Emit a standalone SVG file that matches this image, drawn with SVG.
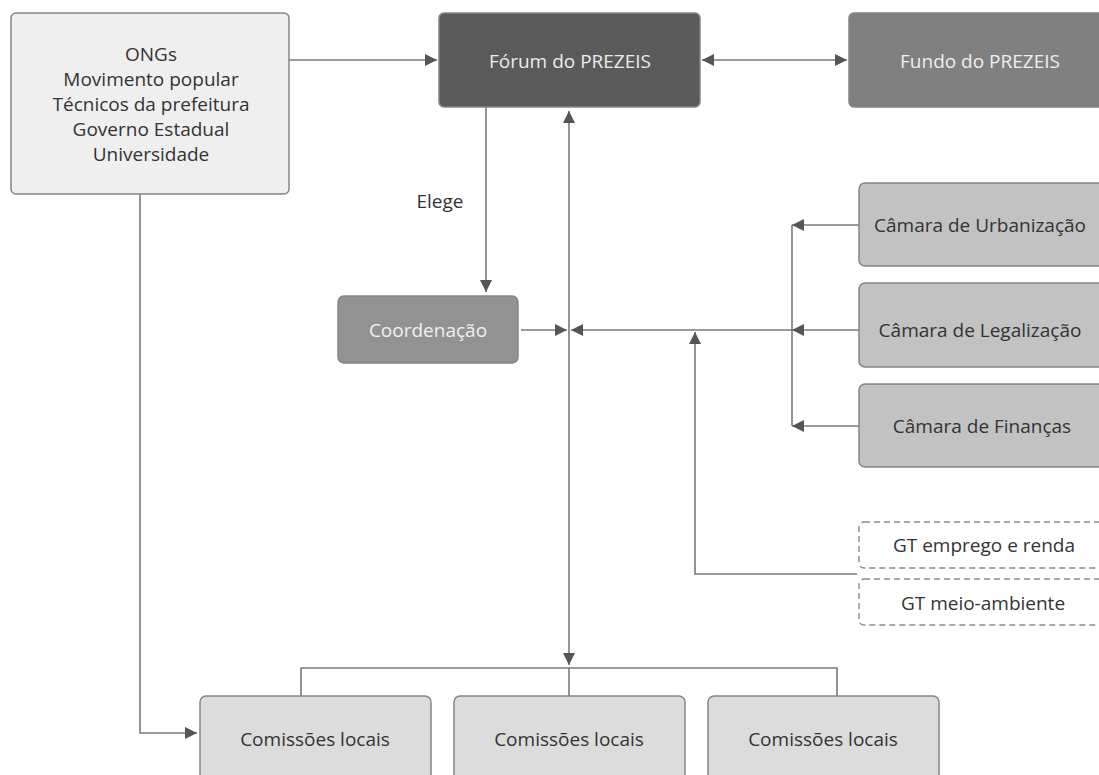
<svg xmlns="http://www.w3.org/2000/svg" width="1099" height="775" viewBox="0 0 1099 775">
<style>
text{font-family:"Open Sans","Noto Sans","DejaVu Sans",sans-serif;font-size:19px;text-anchor:middle;dominant-baseline:central}
.box{stroke:#858585;stroke-width:1.5}
.ink{fill:#333}
.ln{fill:none;stroke:#7a7a7a;stroke-width:1.6}
.dash{fill:#fff;stroke:#8a8a8a;stroke-width:1.4;stroke-dasharray:6 4}
</style>
<defs>
<marker id="ah" viewBox="0 0 12 12" refX="12" refY="6" markerWidth="12" markerHeight="12" markerUnits="userSpaceOnUse" orient="auto-start-reverse">
<path d="M0,0 L12,6 L0,12 Z" fill="#555"/>
</marker>
</defs>
<rect width="1099" height="775" fill="#fff"/>
<g id="connectors">
<line class="ln" x1="289" y1="60" x2="437" y2="60" marker-end="url(#ah)"/>
<line class="ln" x1="702" y1="60" x2="847" y2="60" marker-start="url(#ah)" marker-end="url(#ah)"/>
<line class="ln" x1="486" y1="107" x2="486" y2="292" marker-end="url(#ah)"/>
<line class="ln" x1="569" y1="111" x2="569" y2="665" marker-start="url(#ah)" marker-end="url(#ah)"/>
<line class="ln" x1="521" y1="330" x2="567" y2="330" marker-end="url(#ah)"/>
<line class="ln" x1="792" y1="330" x2="571" y2="330" marker-end="url(#ah)"/>
<polyline class="ln" points="792,225 792,426"/>
<line class="ln" x1="859" y1="225" x2="792" y2="225" marker-end="url(#ah)"/>
<line class="ln" x1="859" y1="330" x2="792" y2="330" marker-end="url(#ah)"/>
<line class="ln" x1="859" y1="426" x2="792" y2="426" marker-end="url(#ah)"/>
<polyline class="ln" points="857,574 695,574 695,332" marker-end="url(#ah)"/>
<polyline class="ln" points="140,193 140,733 197,733" marker-end="url(#ah)"/>
<polyline class="ln" points="301,696 301,668 837,668 837,696"/>
<line class="ln" x1="569" y1="668" x2="569" y2="696"/>
<text x="440" y="201" class="ink">Elege</text>
</g>
<g id="n-origem">
<rect class="box" x="11" y="13" width="278" height="181" rx="5" fill="#efefef"/>
<text class="ink" x="151" y="54">ONGs</text>
<text class="ink" x="151" y="79">Movimento popular</text>
<text class="ink" x="151" y="104">Técnicos da prefeitura</text>
<text class="ink" x="151" y="129">Governo Estadual</text>
<text class="ink" x="151" y="154">Universidade</text>
</g>
<g id="n-forum">
<rect class="box" x="439" y="13" width="261" height="94" rx="5" fill="#5a5a5a" stroke="#4a4a4a"/>
<text x="570" y="61" fill="#ececec">Fórum do PREZEIS</text>
</g>
<g id="n-fundo">
<rect class="box" x="849" y="13" width="262" height="94" rx="5" fill="#808080"/>
<text x="980" y="61" fill="#efefef">Fundo do PREZEIS</text>
</g>
<g id="n-coord">
<rect class="box" x="338" y="296" width="180" height="67" rx="6" fill="#929292"/>
<text x="428" y="330" fill="#f0f0f0">Coordenação</text>
</g>
<g id="n-urb">
<rect class="box" x="859" y="183" width="250" height="83" rx="6" fill="#c2c2c2"/>
<text class="ink" x="980" y="225">Câmara de Urbanização</text>
</g>
<g id="n-leg">
<rect class="box" x="859" y="283" width="250" height="84" rx="6" fill="#c2c2c2"/>
<text class="ink" x="980" y="330">Câmara de Legalização</text>
</g>
<g id="n-fin">
<rect class="box" x="859" y="384" width="250" height="83" rx="6" fill="#c2c2c2"/>
<text class="ink" x="982" y="426">Câmara de Finanças</text>
</g>
<g id="n-gt1">
<rect class="dash" x="859" y="522" width="250" height="46" rx="5"/>
<text class="ink" x="984" y="545">GT emprego e renda</text>
</g>
<g id="n-gt2">
<rect class="dash" x="859" y="579" width="250" height="46" rx="5"/>
<text class="ink" x="983" y="603">GT meio-ambiente</text>
</g>
<g id="n-com1">
<rect class="box" x="200" y="696" width="231" height="86" rx="6" fill="#dcdcdc"/>
<text class="ink" x="315" y="739">Comissões locais</text>
</g>
<g id="n-com2">
<rect class="box" x="454" y="696" width="231" height="86" rx="6" fill="#dcdcdc"/>
<text class="ink" x="569" y="739">Comissões locais</text>
</g>
<g id="n-com3">
<rect class="box" x="708" y="696" width="231" height="86" rx="6" fill="#dcdcdc"/>
<text class="ink" x="823" y="739">Comissões locais</text>
</g>
</svg>
